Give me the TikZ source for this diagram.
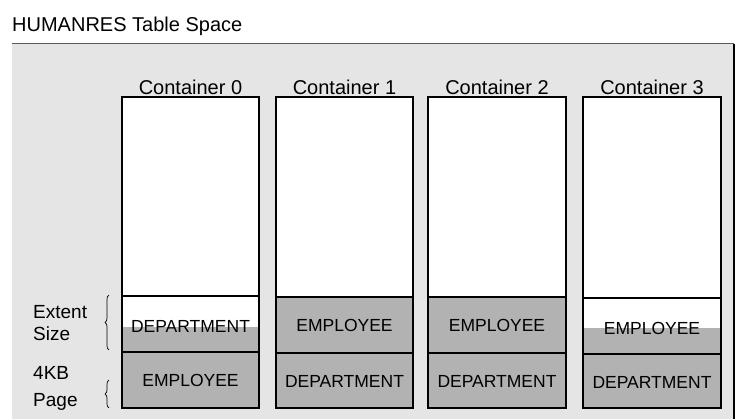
\documentclass[tikz,border=0pt]{standalone}
\usepackage{fontspec}
\setmainfont{Liberation Sans}
\usetikzlibrary{decorations.pathreplacing}
\definecolor{panelgray}{RGB}{229,229,229}
\definecolor{fillgray}{RGB}{178,178,178}
\definecolor{edgegray}{RGB}{90,90,90}
\tikzset{
  heading/.style={font=\fontsize{20}{22}\selectfont, inner sep=0pt},
  sidelabel/.style={font=\fontsize{19}{21}\selectfont, inner sep=0pt, align=left, anchor=west},
  boxlabel/.style={font=\fontsize{17.5}{19}\selectfont, inner sep=0pt},
  frame/.style={draw=black, line width=1.1pt},
  shaded/.style={fill=fillgray},
  curly/.style={decorate, decoration={brace, amplitude=4pt}, line width=0.7pt},
}
\begin{document}
\begin{tikzpicture}[x=1pt,y=-1pt]
  \useasboundingbox (0,0) rectangle (742,419);
  \fill[white] (0,0) rectangle (742,419);

  % table space panel
  \fill[panelgray] (12,44) rectangle (734,419);
  \draw[edgegray, line width=1pt] (12,44) -- (734,44);
  \draw[black, line width=1.2pt] (734,44) -- (734,419);

  \node[heading, anchor=west] (title) at (12,26) {HUMANRES Table Space};

  % container headings and white interiors
  \foreach \i/\x/\w in {0/122/137, 1/276/137, 2/428/138, 3/583/138} {
    \node[heading] (head\i) at (\x+\w/2,87) {Container \i};
    \fill[white] (\x,97) rectangle (\x+\w,408);
  }

  % Container 0: half-filled extent, then full page
  \fill[shaded] (122,327) rectangle (259,352);
  \fill[shaded] (122,352) rectangle (259,408);
  \draw[frame] (122,97) rectangle (259,352);
  \draw[frame] (122,296) -- (259,296);
  \draw[frame, line width=1.5pt] (122,352) rectangle (259,408);
  \node[boxlabel] (c0a) at (190.5,326) {DEPARTMENT};
  \node[boxlabel] (c0b) at (190.5,380) {EMPLOYEE};

  % Container 1
  \fill[shaded] (276,297) rectangle (413,408);
  \draw[frame] (276,97) rectangle (413,408);
  \draw[frame] (276,297) -- (413,297);
  \draw[frame] (276,353) -- (413,353);
  \node[boxlabel] (c1a) at (344.5,325) {EMPLOYEE};
  \node[boxlabel] (c1b) at (344.5,381) {DEPARTMENT};

  % Container 2
  \fill[shaded] (428,297) rectangle (566,408);
  \draw[frame] (428,97) rectangle (566,408);
  \draw[frame] (428,297) -- (566,297);
  \draw[frame] (428,353) -- (566,353);
  \node[boxlabel] (c2a) at (497,325) {EMPLOYEE};
  \node[boxlabel] (c2b) at (497,381) {DEPARTMENT};

  % Container 3: half-filled extent
  \fill[shaded] (583,328) rectangle (721,408);
  \draw[frame] (583,97) rectangle (721,408);
  \draw[frame] (583,298) -- (721,298);
  \draw[frame] (583,354) -- (721,354);
  \node[boxlabel] (c3a) at (652,328) {EMPLOYEE};
  \node[boxlabel] (c3b) at (652,382) {DEPARTMENT};

  % side labels with braces
  \node[sidelabel] (extent) at (33,312) {Extent};
  \node[sidelabel] (size) at (33,334) {Size};
  \node[sidelabel] (kb) at (33,373) {4KB};
  \node[sidelabel] (page) at (33,402) {Page};
  \coordinate (eb1) at (109,350);
  \coordinate (eb2) at (109,295);
  \coordinate (pb1) at (109,408);
  \coordinate (pb2) at (109,380);
  \draw[curly] (eb1) -- (eb2);
  \draw[curly] (pb1) -- (pb2);
\end{tikzpicture}
\end{document}
